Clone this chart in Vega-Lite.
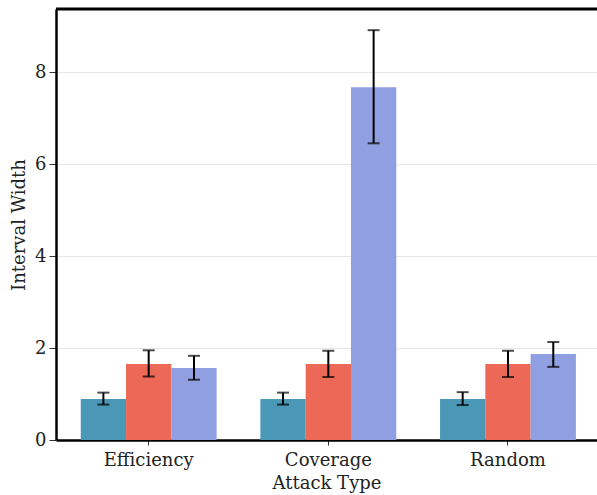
{
  "$schema": "https://vega.github.io/schema/vega-lite/v6.json",
  "width": 541,
  "height": 431,
  "autosize": {"type": "none"},
  "padding": {"left": 56, "top": 9, "right": 0, "bottom": 55},
  "background": "white",
  "config": {
    "view": {"stroke": null},
    "font": "DejaVu Serif",
    "axis": {"labelFont": "DejaVu Serif", "titleFont": "DejaVu Serif", "labelColor": "#222", "titleColor": "#222", "titleFontWeight": "normal"}
  },
  "data": {
    "values": [
      {"attack": "Efficiency", "method": "A", "value": 0.89, "lo": 0.77, "hi": 1.03},
      {"attack": "Efficiency", "method": "B", "value": 1.65, "lo": 1.38, "hi": 1.95},
      {"attack": "Efficiency", "method": "C", "value": 1.565, "lo": 1.31, "hi": 1.83},
      {"attack": "Coverage", "method": "A", "value": 0.89, "lo": 0.77, "hi": 1.03},
      {"attack": "Coverage", "method": "B", "value": 1.65, "lo": 1.37, "hi": 1.94},
      {"attack": "Coverage", "method": "C", "value": 7.67, "lo": 6.45, "hi": 8.91},
      {"attack": "Random", "method": "A", "value": 0.89, "lo": 0.76, "hi": 1.04},
      {"attack": "Random", "method": "B", "value": 1.65, "lo": 1.37, "hi": 1.94},
      {"attack": "Random", "method": "C", "value": 1.87, "lo": 1.59, "hi": 2.13}
    ]
  },
  "encoding": {
    "x": {
      "field": "attack", "type": "nominal", "sort": ["Efficiency", "Coverage", "Random"],
      "scale": {"paddingInner": 0.2435, "paddingOuter": 0.1275, "align": 0.54},
      "axis": {"title": "Attack Type", "labelAngle": 0, "labelFontSize": 18, "titleFontSize": 18, "labelPadding": 6, "titlePadding": 5, "tickSize": 5, "tickColor": "#333", "domainColor": "black", "domainWidth": 2.5, "grid": false}
    },
    "xOffset": {"field": "method", "type": "nominal", "sort": ["A", "B", "C"]}
  },
  "layer": [
    {
      "mark": {"type": "bar"},
      "encoding": {
        "y": {
          "field": "value", "type": "quantitative",
          "scale": {"domain": [0, 9.37], "nice": false},
          "axis": {"title": "Interval Width", "values": [0, 2, 4, 6, 8], "labelFontSize": 18, "titleFontSize": 18, "tickSize": 7, "labelPadding": 3, "titlePadding": 6, "tickColor": "#333", "domainColor": "black", "domainWidth": 2.5, "gridColor": "#e6e6e6", "gridWidth": 1}
        },
        "color": {
          "field": "method", "type": "nominal", "legend": null,
          "scale": {"domain": ["A", "B", "C"], "range": ["#4b98b6", "#ec6857", "#8f9fe2"]}
        }
      }
    },
    {
      "mark": {"type": "rule", "color": "black", "strokeWidth": 2},
      "encoding": {
        "y": {"field": "lo", "type": "quantitative"},
        "y2": {"field": "hi"}
      }
    },
    {
      "mark": {"type": "tick", "color": "black", "thickness": 2, "size": 12},
      "encoding": {"y": {"field": "lo", "type": "quantitative"}}
    },
    {
      "mark": {"type": "tick", "color": "black", "thickness": 2, "size": 12},
      "encoding": {"y": {"field": "hi", "type": "quantitative"}}
    },
    {
      "data": {"values": [{"top": 9.37}]},
      "mark": {"type": "rule", "color": "black", "strokeWidth": 3},
      "encoding": {"y": {"field": "top", "type": "quantitative"}, "x": null, "xOffset": null}
    }
  ]
}
